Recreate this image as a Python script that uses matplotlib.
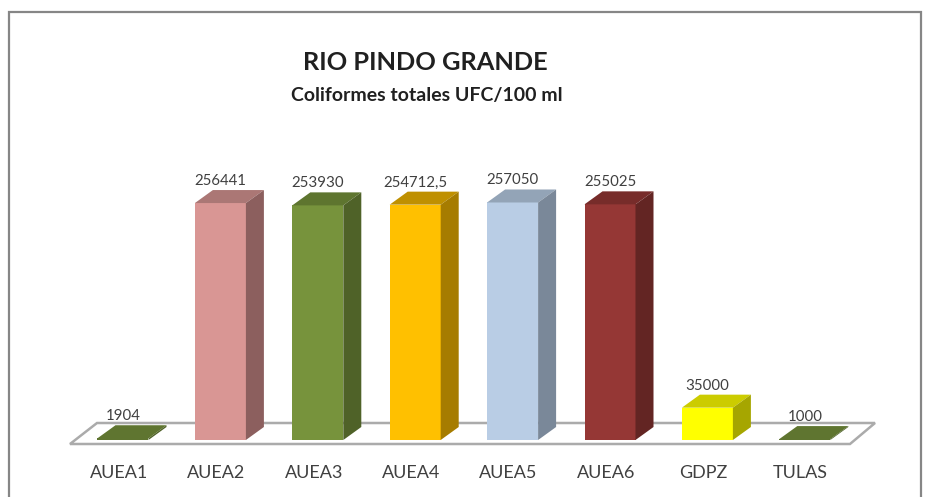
import matplotlib
matplotlib.use('Agg')
import matplotlib.pyplot as plt

estaciones = ['AUEA1', 'AUEA2', 'AUEA3', 'AUEA4', 'AUEA5', 'AUEA6', 'GDPZ', 'TULAS']
valores = [1904, 256441, 253930, 254712.5, 257050, 255025, 35000, 1000]
etiquetas = ['1904', '256441', '253930', '254712,5', '257050', '255025', '35000', '1000']
c_frente = ['#5F7530', '#D99694', '#77933C', '#FFC000', '#B9CDE5', '#953735', '#FFFF00', '#5F7530']
c_arriba = ['#5F7530', '#AB7775', '#5E752F', '#BF9000', '#93A4B7', '#772C2A', '#CCCC00', '#5F7530']
c_lado = ['#4F6228', '#8C5F5E', '#4F6228', '#A67C00', '#7A8899', '#632523', '#A6A600', '#4F6228']

plt.rcParams['font.family'] = ['Lato', 'DejaVu Sans']

# escala: pixeles de la imagen por categoria y por unidad
PX_CAT = 97.4
PX_VAL = 0.000924
X0 = 123
Y0 = 440
ANCHO = 51 / PX_CAT
DX = 18 / PX_CAT
DY = 13 / PX_VAL

fig = plt.figure(figsize=(9.25, 4.97), dpi=100)
ax = fig.add_axes([0, 0, 1, 1])
ax.set_xlim(-X0 / PX_CAT, (925 - X0) / PX_CAT)
ax.set_ylim(-(497 - Y0) / PX_VAL, Y0 / PX_VAL)
ax.axis('off')

# marco del grafico
ax.plot([8.5 / 925, 8.5 / 925, 921 / 925, 921 / 925], [0, 1 - 12 / 497, 1 - 12 / 497, 0],
        transform=ax.transAxes, color='#868686', lw=1.6, solid_joinstyle='miter')

# piso
y_f = -4 / PX_VAL
y_b = 17 / PX_VAL
x_fi, x_fd = (70 - X0) / PX_CAT, (850 - X0) / PX_CAT
x_bi, x_bd = (97 - X0) / PX_CAT, (875 - X0) / PX_CAT
ax.fill([x_fi, x_fd, x_bd, x_bi], [y_f, y_f, y_b, y_b], facecolor='white',
        edgecolor='#ABABAB', lw=1.8, zorder=1)

for i, v in enumerate(valores):
    izq = i - ANCHO / 2
    der = i + ANCHO / 2
    ax.bar(i, v, width=ANCHO, color=c_frente[i], zorder=3 + i)
    ax.fill([izq, der, der + DX, izq + DX], [v, v, v + DY, v + DY], color=c_arriba[i], lw=0, zorder=3 + i)
    ax.fill([der, der + DX, der + DX, der], [0, DY, v + DY, v], color=c_lado[i], lw=0, zorder=3 + i)
    ax.annotate(etiquetas[i], (i, v + DY), xytext=(0, 6.5), textcoords='offset points',
                ha='center', va='center', fontsize=10.8, color='#404040', zorder=20)
    ax.annotate(estaciones[i], (i, 0), xytext=(-3, -23.5), textcoords='offset points',
                ha='center', va='center', fontsize=13, color='#404040')

ax.text(425 / 925, 1 - 62 / 497, 'RIO PINDO GRANDE', transform=ax.transAxes, ha='center',
        va='center', fontsize=18.3, fontweight='bold', color='#202020')
ax.text(427 / 925, 1 - 95 / 497, 'Coliformes totales UFC/100 ml', transform=ax.transAxes,
        ha='center', va='center', fontsize=14, fontweight='bold', color='#202020')

fig.savefig('out.png', dpi=100)
